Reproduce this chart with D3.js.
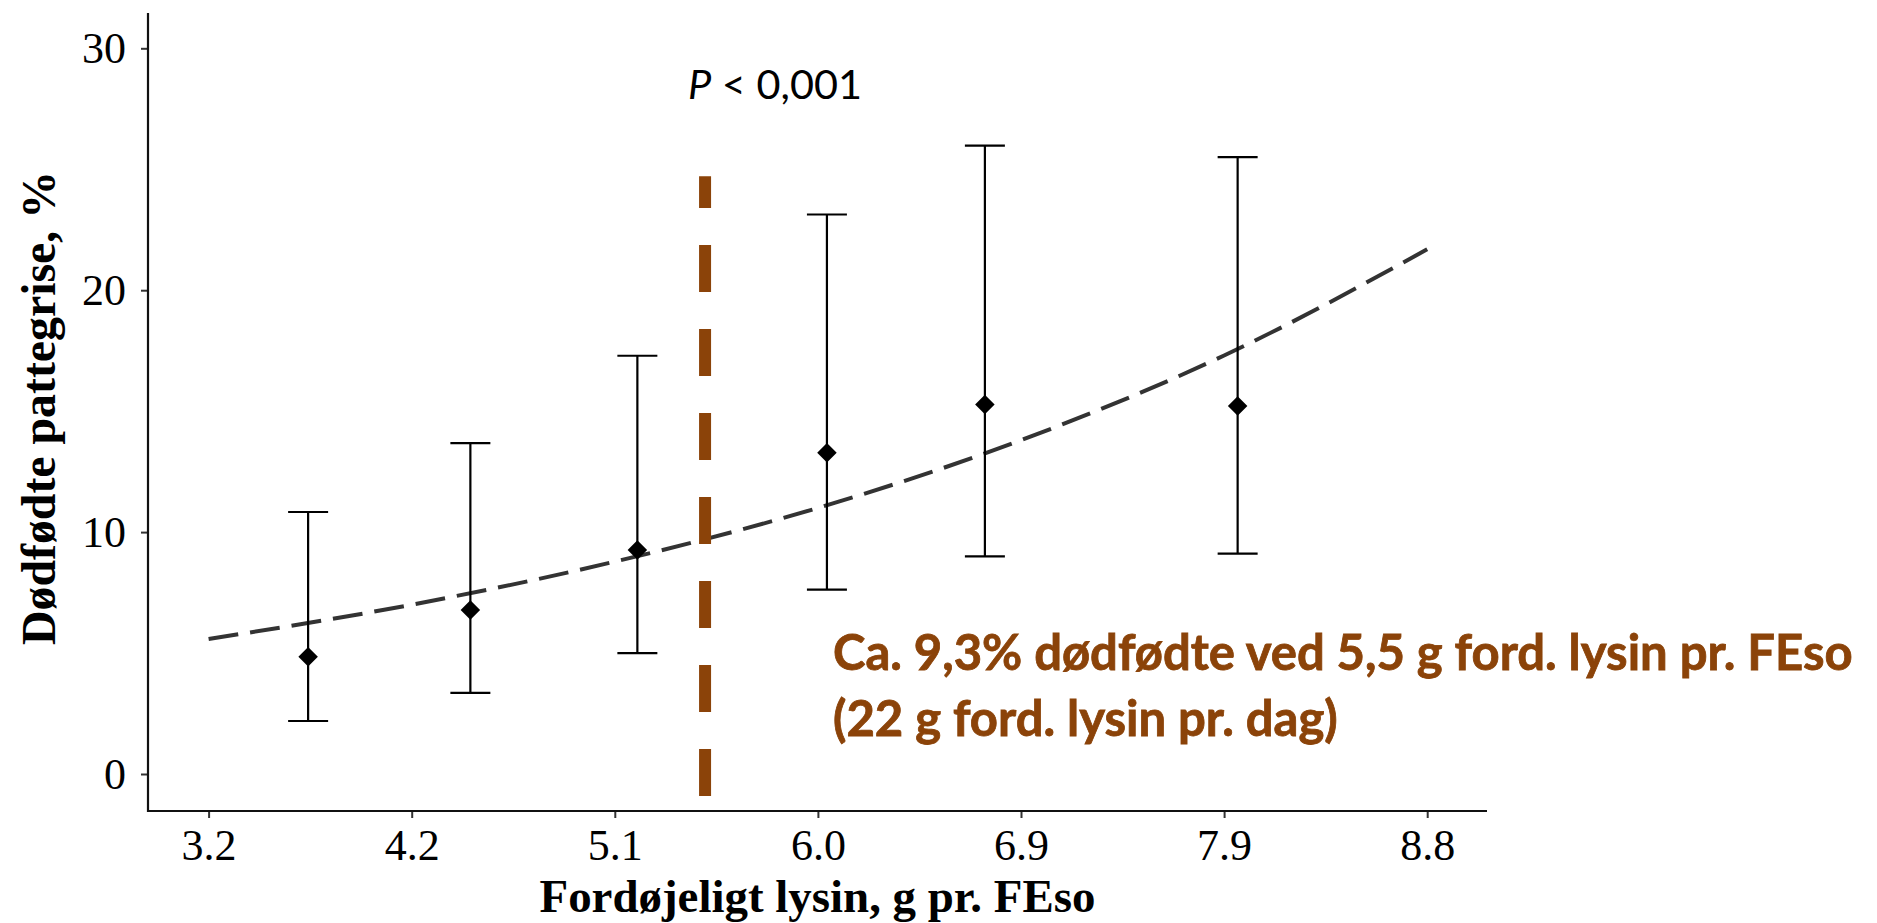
<!DOCTYPE html>
<html>
<head>
<meta charset="utf-8">
<script src="https://cdn.jsdelivr.net/npm/d3@7"></script>
<style>
  html, body { margin: 0; padding: 0; background: #fff; }
  svg { display: block; }
</style>
</head>
<body>
<svg id="chart" width="1877" height="923"></svg>
<script>
// ---------- data ----------
const xTickValues = [3.2, 4.2, 5.1, 6.0, 6.9, 7.9, 8.8];
const xTickLabels = ["3.2", "4.2", "5.1", "6.0", "6.9", "7.9", "8.8"];
const yTickValues = [0, 10, 20, 30];

// observed means with error bars
const pointX     = [3.69, 4.46, 5.20, 6.04, 6.74, 7.96];
const pointMean  = [4.85, 6.78, 9.26, 13.28, 15.27, 15.21];
const pointLower = [2.19, 3.35, 5.00, 7.62, 9.00, 9.11];
const pointUpper = [10.83, 13.68, 17.29, 23.13, 25.98, 25.50];

// fitted curve
const curveX = [3.2, 4.2, 5.1, 6.0, 6.9, 7.9, 8.8];
const curveY = [5.58, 7.00, 8.78, 11.00, 13.80, 17.30, 21.69];

// optimum marker
const optimumX = 5.5;
const optimumRange = [-0.91, 24.71];

const xTitle = "Fordøjeligt lysin, g pr. FEso";
const yTitle = "Dødfødte pattegrise, %";
const annotLines = ["Ca. 9,3% dødfødte ved 5,5 g ford. lysin pr. FEso", "(22 g ford. lysin pr. dag)"];

// ---------- layout ----------
const panel = { left: 148, right: 1487, top: 13, bottom: 811 };
const firstTickPx = 208.6, tickStepPx = 203.1;
const brown = "#8B4309";
const LATO_CAP = 0.7165;

const svg = d3.select("#chart");

const x = d3.scaleLinear()
  .domain(xTickValues)
  .range(xTickValues.map((d, i) => firstTickPx + i * tickStepPx));
const y = d3.scaleLinear().domain([0, 30]).range([774, 48.3]);

// fitting helper: scale font-size so the text reaches a target width
function fitWidth(sel, target) {
  const fs = parseFloat(sel.attr("font-size"));
  const w = sel.node().getComputedTextLength();
  sel.attr("font-size", (fs * target / w).toFixed(2));
  return fs * target / w;
}
// stretch vertically around the baseline so cap height matches
function stretchCap(sel, x0, y0, fs, capPx) {
  const k = capPx / (LATO_CAP * fs);
  sel.attr("x", 0).attr("y", 0)
     .attr("transform", `translate(${x0},${y0}) scale(1,${k.toFixed(3)})`);
}

// ---------- axes ----------
const xAxis = d3.axisBottom(x)
  .tickValues(xTickValues)
  .tickFormat((d, i) => xTickLabels[i])
  .tickSize(7)
  .tickSizeOuter(0);
const gx = svg.append("g")
  .attr("transform", `translate(0,${panel.bottom})`)
  .call(xAxis);
gx.select(".domain").remove();
gx.selectAll(".tick line").attr("stroke", "#333").attr("stroke-width", 2);
gx.selectAll(".tick text")
  .attr("font-family", "'Liberation Serif', 'Times New Roman', serif")
  .attr("font-size", 44)
  .attr("fill", "#000")
  .attr("dy", 0)
  .attr("y", 49);

const yAxis = d3.axisLeft(y)
  .tickValues(yTickValues)
  .tickSize(7)
  .tickPadding(15)
  .tickSizeOuter(0);
const gy = svg.append("g")
  .attr("transform", `translate(${panel.left},0)`)
  .call(yAxis);
gy.select(".domain").remove();
gy.selectAll(".tick line").attr("stroke", "#333").attr("stroke-width", 2);
gy.selectAll(".tick text")
  .attr("font-family", "'Liberation Serif', 'Times New Roman', serif")
  .attr("font-size", 44)
  .attr("fill", "#000");

// axis lines (panel edges)
svg.append("line")
  .attr("x1", panel.left).attr("x2", panel.left)
  .attr("y1", panel.top).attr("y2", panel.bottom + 1)
  .attr("stroke", "#111").attr("stroke-width", 2.2);
svg.append("line")
  .attr("x1", panel.left - 1).attr("x2", panel.right)
  .attr("y1", panel.bottom).attr("y2", panel.bottom)
  .attr("stroke", "#111").attr("stroke-width", 2.2);

// ---------- fitted curve ----------
const curveData = curveX.map((d, i) => ({ x: d, y: curveY[i] }));
svg.append("path")
  .datum(curveData)
  .attr("fill", "none")
  .attr("stroke", "#333333")
  .attr("stroke-width", 4)
  .attr("stroke-dasharray", "30,12")
  .attr("d", d3.line().x(d => x(d.x)).y(d => y(d.y)).curve(d3.curveMonotoneX));

// ---------- error bars ----------
const pts = pointX.map((d, i) => ({ x: d, m: pointMean[i], lo: pointLower[i], hi: pointUpper[i] }));
const capHalf = 20;
const eb = svg.append("g").attr("stroke", "#000").attr("stroke-width", 2.2);
eb.selectAll(".v").data(pts).join("line")
  .attr("x1", d => x(d.x)).attr("x2", d => x(d.x))
  .attr("y1", d => y(d.lo)).attr("y2", d => y(d.hi));
eb.selectAll(".ct").data(pts).join("line")
  .attr("x1", d => x(d.x) - capHalf).attr("x2", d => x(d.x) + capHalf)
  .attr("y1", d => y(d.hi)).attr("y2", d => y(d.hi));
eb.selectAll(".cb").data(pts).join("line")
  .attr("x1", d => x(d.x) - capHalf).attr("x2", d => x(d.x) + capHalf)
  .attr("y1", d => y(d.lo)).attr("y2", d => y(d.lo));

// diamonds
const diamond = d3.symbol().type(d3.symbolSquare).size(190);
svg.append("g").selectAll("path").data(pts).join("path")
  .attr("d", diamond)
  .attr("fill", "#000")
  .attr("transform", d => `translate(${x(d.x)},${y(d.m)}) rotate(45)`);

// ---------- optimum vertical line ----------
svg.append("line")
  .attr("x1", x(optimumX)).attr("x2", x(optimumX))
  .attr("y1", y(optimumRange[0])).attr("y2", y(optimumRange[1]))
  .attr("stroke", brown)
  .attr("stroke-width", 12)
  .attr("stroke-dasharray", "47,37");

// ---------- texts ----------
const pText = svg.append("text")
  .attr("x", 688).attr("y", 99)
  .attr("font-family", "Lato, 'Open Sans', sans-serif")
  .attr("font-size", 46)
  .attr("fill", "#000");
pText.append("tspan").attr("font-style", "italic").text("P");
pText.append("tspan").text(" < 0,001");
const pSize = fitWidth(pText, 174);
stretchCap(pText, 688, 99, pSize, 29);

const a1 = svg.append("text")
  .attr("x", 833).attr("y", 670)
  .attr("font-family", "Lato, 'Open Sans', sans-serif")
  .attr("font-weight", "bold")
  .attr("font-size", 50)
  .attr("fill", brown)
  .attr("stroke", brown).attr("stroke-width", 0.8)
  .text(annotLines[0]);
const annotSize = fitWidth(a1, 1020);
stretchCap(a1, 833, 670, annotSize, 35);
const a2 = svg.append("text")
  .attr("font-family", "Lato, 'Open Sans', sans-serif")
  .attr("font-weight", "bold")
  .attr("font-size", annotSize.toFixed(2))
  .attr("fill", brown)
  .attr("stroke", brown).attr("stroke-width", 0.8)
  .text(annotLines[1]);
stretchCap(a2, 833, 736, annotSize, 35);

const xt = svg.append("text")
  .attr("x", (panel.left + panel.right) / 2).attr("y", 912)
  .attr("text-anchor", "middle")
  .attr("font-family", "'Liberation Serif', 'Times New Roman', serif")
  .attr("font-weight", "bold")
  .attr("font-size", 40)
  .attr("fill", "#000")
  .text(xTitle);
const titleSize = fitWidth(xt, 556);

const yt = svg.append("text")
  .attr("transform", `translate(55,${(panel.top + panel.bottom) / 2 - 4}) rotate(-90)`)
  .attr("text-anchor", "middle")
  .attr("font-family", "'Liberation Serif', 'Times New Roman', serif")
  .attr("font-weight", "bold")
  .attr("font-size", titleSize.toFixed(2))
  .attr("fill", "#000")
  .text(yTitle);
fitWidth(yt, 474);
</script>
</body>
</html>
